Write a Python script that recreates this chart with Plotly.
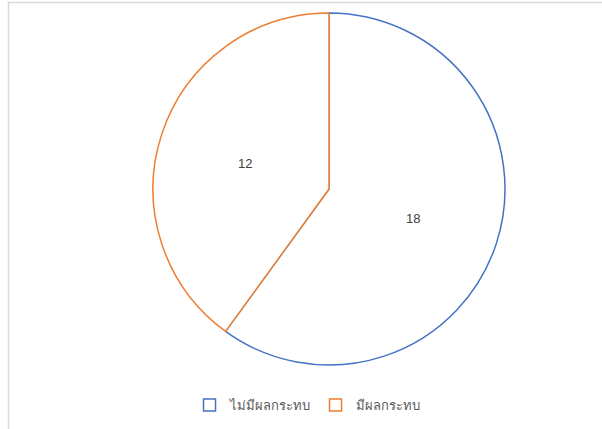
import math
import plotly.graph_objects as go

# Survey split: respondents without / with impact
labels = ["ไม่มีผลกระทบ", "มีผลกระทบ"]
values = [18, 12]
line_colors = ["#4472C4", "#ED7D31"]

W, H = 602, 429
# pie placement in pixels (centre and radius)
CX, CY, R = 329, 189, 176

fig = go.Figure(
    go.Pie(
        labels=labels,
        values=values,
        sort=False,
        direction="clockwise",
        rotation=0,
        marker=dict(colors=["#FFFFFF", "#FFFFFF"],
                    line=dict(color=line_colors, width=1.5)),
        textinfo="none",
        hoverinfo="label+value",
        domain=dict(x=[(CX - R) / W, (CX + R) / W],
                    y=[1 - (CY + R) / H, 1 - (CY - R) / H]),
    )
)

# value labels at half radius along each slice's bisector
total = sum(values)
start = 0.0
annotations = []
for v in values:
    mid = (start + v / 2) / total * 2 * math.pi
    start += v
    px = CX + 0.5 * R * math.sin(mid)
    py = CY - 0.5 * R * math.cos(mid) + 2
    annotations.append(dict(
        x=px / W, y=1 - py / H, xref="paper", yref="paper",
        xanchor="center", yanchor="middle",
        text=str(v), showarrow=False,
        font=dict(family="Liberation Sans, Arial, sans-serif", size=13, color="#404040"),
    ))

fig.update_layout(
    width=W, height=H,
    margin=dict(l=0, r=0, t=0, b=0),
    paper_bgcolor="white",
    plot_bgcolor="white",
    showlegend=True,
    legend=dict(orientation="h", x=0.51, xanchor="center", y=1 - 405 / H, yanchor="middle",
                font=dict(family="Noto Sans, Liberation Sans, sans-serif", size=13, color="#595959"),
                itemwidth=30),
    annotations=annotations,
    shapes=[dict(type="rect", xref="paper", yref="paper",
                 x0=8.5 / W, x1=1.2, y0=-0.2, y1=1 - 2.5 / H,
                 line=dict(color="#D9D9D9", width=1.5), layer="below")],
)

fig.write_html("out.html")
